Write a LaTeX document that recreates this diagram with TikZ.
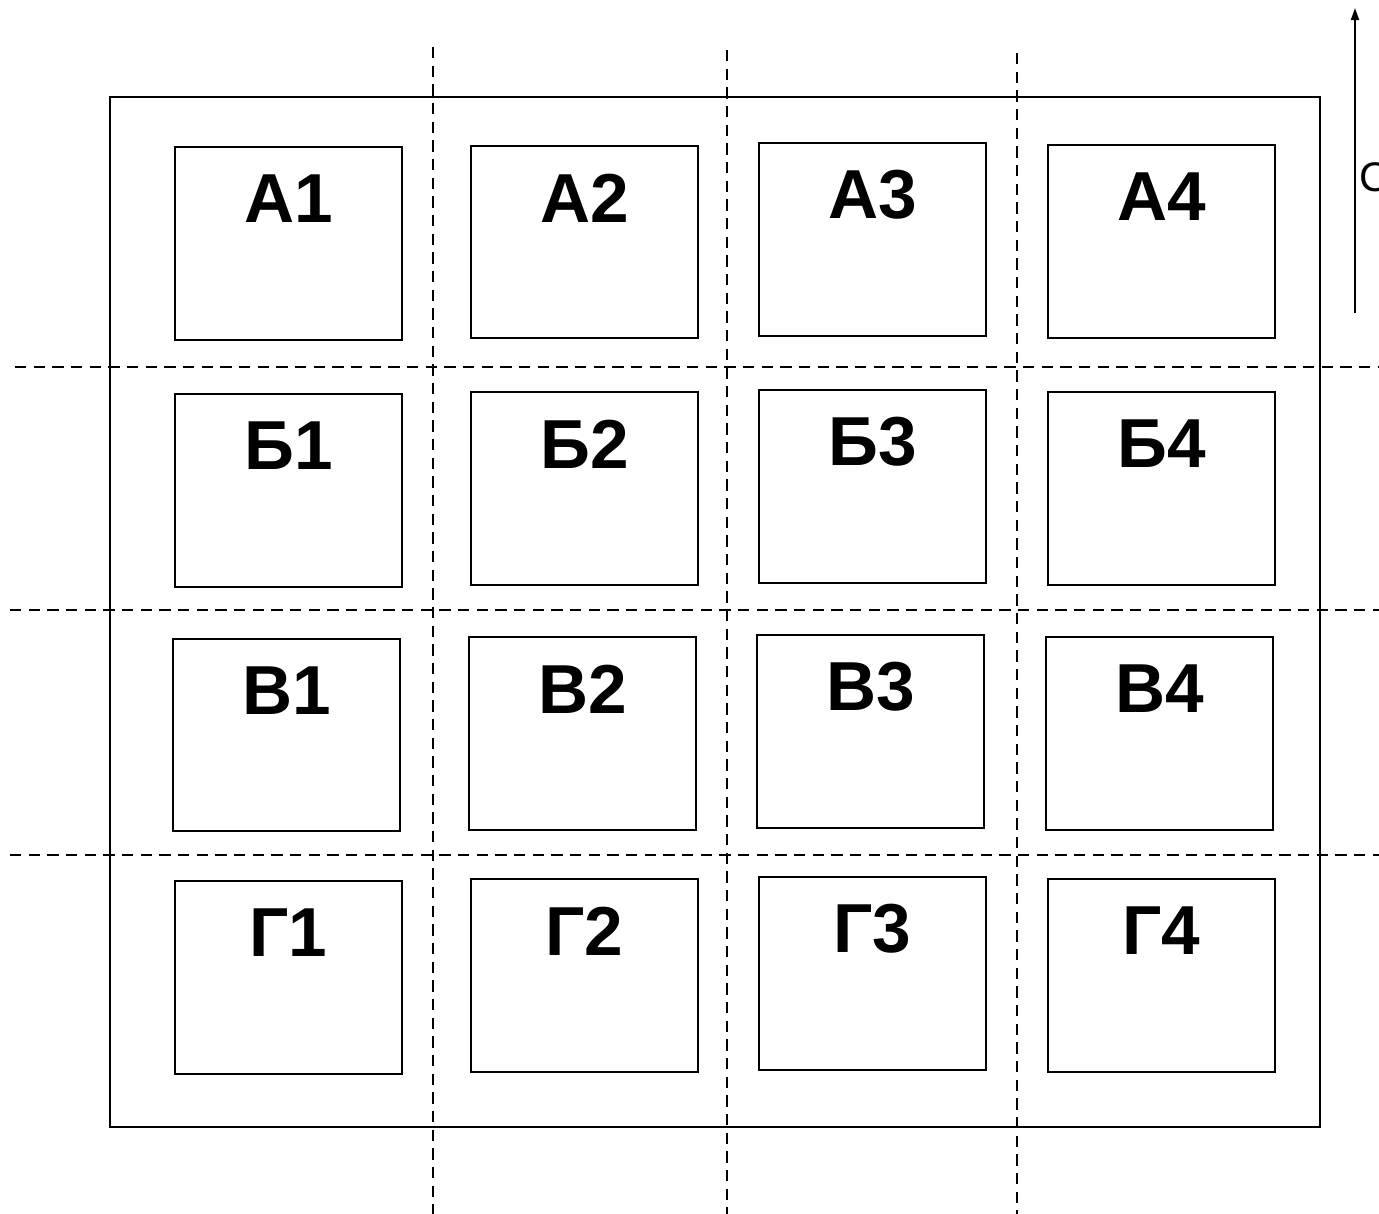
\documentclass[tikz,border=0pt]{standalone}
\usepackage{fontspec}
\setmainfont{Liberation Sans}
\usetikzlibrary{arrows.meta}
\begin{document}
\begin{tikzpicture}[x=0.75pt,y=-0.75pt,
  plot/.style={draw=black,line width=1.5pt},
  cut/.style={draw=black,line width=2pt,dash pattern=on 8.5pt off 5.5pt},
  lbl/.style={inner sep=0pt,font=\fontsize{52}{60}\selectfont\bfseries},
  frame/.style={draw=black,line width=1.5pt}]
\useasboundingbox (0,0) rectangle (1379,1214);
% outer frame
\draw[frame] (110,97) rectangle (1320,1127);
% dashed cut lines
\coordinate (v1t) at (433,47);  \coordinate (v1b) at (433,1214);
\coordinate (v2t) at (727,50);  \coordinate (v2b) at (727,1214);
\coordinate (v3t) at (1017,53); \coordinate (v3b) at (1017,1214);
\coordinate (h1l) at (15,367);  \coordinate (h1r) at (1379,367);
\coordinate (h2l) at (10,610);  \coordinate (h2r) at (1379,610);
\coordinate (h3l) at (10,855);  \coordinate (h3r) at (1379,855);
\draw[cut] (v1t) -- (v1b);
\draw[cut] (v2t) -- (v2b);
\draw[cut] (v3t) -- (v3b);
\draw[cut] (h1l) -- (h1r);
\draw[cut] (h2l) -- (h2r);
\draw[cut] (h3l) -- (h3r);
% plots
\foreach \n/\xa/\ya/\xb/\yb/\t in {
  a1/175/147/402/340/А1, a2/471/146/698/338/А2, a3/759/143/986/336/А3, a4/1048/145/1275/338/А4,
  b1/175/394/402/587/Б1, b2/471/392/698/585/Б2, b3/759/390/986/583/Б3, b4/1048/392/1275/585/Б4,
  c1/173/639/400/831/В1, c2/469/637/696/830/В2, c3/757/635/984/828/В3, c4/1046/637/1273/830/В4,
  d1/175/881/402/1074/Г1, d2/471/879/698/1072/Г2, d3/759/877/986/1070/Г3, d4/1048/879/1275/1072/Г4}{
  \draw[plot] (\xa,\ya) rectangle (\xb,\yb);
  \node[lbl] (\n) at ({(\xa+\xb)/2},{\ya+52}) {\t};
}
% north arrow
\coordinate (ns) at (1355,313);
\coordinate (nn) at (1355,8);
\draw[line width=1.4pt,-{Triangle[length=9pt,width=6pt]}] (ns) -- (nn);
\node[inner sep=0pt,anchor=west,font=\fontsize{31}{36}\selectfont] (north) at (1359,177) {С};
\end{tikzpicture}
\end{document}
